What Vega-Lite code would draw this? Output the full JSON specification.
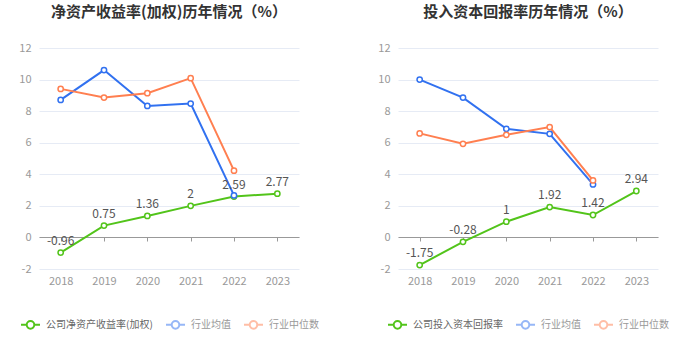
{
  "$schema": "https://vega.github.io/schema/vega-lite/v6.json",
  "background": "white",
  "padding": {"left": 18, "top": 5, "right": 5, "bottom": 5},
  "bounds": "flush",
  "spacing": 99,
  "config": {
    "font": "Noto Sans CJK SC",
    "view": {"stroke": null},
    "axisY": {"domain": false, "ticks": false, "gridColor": "#e6ebf5", "gridWidth": 1, "labelColor": "#999", "labelFontSize": 11, "labelPadding": 8, "values": [-2, 0, 2, 4, 6, 8, 10, 12], "labelExpr": "datum.value + ''"},
    "axisX": {"domainColor": "#999", "tickColor": "#999", "tickSize": 4, "labelColor": "#999", "labelFontSize": 11, "labelAngle": 0, "labelPadding": 34, "offset": -32, "grid": false},
    "legend": {"orient": "bottom", "direction": "horizontal", "offset": 28, "labelFontSize": 10, "labelColor": "#666", "labelOffset": 5, "columnPadding": 9, "symbolType": "M-1,0H-0.4M0.4,0H1M0.4,0A0.4,0.4,0,1,1,-0.4,0A0.4,0.4,0,1,1,0.4,0", "symbolSize": 361, "symbolStrokeWidth": 2, "symbolFillColor": "white", "title": null, "layout": {"bottom": {"anchor": "middle"}}},
    "title": {"fontSize": 15, "fontWeight": "bold", "color": "#333", "anchor": "middle", "offset": 22}
  },
  "hconcat": [
    {
      "width": 260,
      "height": 221,
      "title": "净资产收益率(加权)历年情况（%）",
      "data": {"values": [
        {"year": "2018", "series": "公司净资产收益率(加权)", "value": -0.96},
        {"year": "2019", "series": "公司净资产收益率(加权)", "value": 0.75},
        {"year": "2020", "series": "公司净资产收益率(加权)", "value": 1.36},
        {"year": "2021", "series": "公司净资产收益率(加权)", "value": 2},
        {"year": "2022", "series": "公司净资产收益率(加权)", "value": 2.59},
        {"year": "2023", "series": "公司净资产收益率(加权)", "value": 2.77},
        {"year": "2018", "series": "行业均值", "value": 8.71},
        {"year": "2019", "series": "行业均值", "value": 10.6},
        {"year": "2020", "series": "行业均值", "value": 8.33},
        {"year": "2021", "series": "行业均值", "value": 8.48},
        {"year": "2022", "series": "行业均值", "value": 2.66},
        {"year": "2018", "series": "行业中位数", "value": 9.41},
        {"year": "2019", "series": "行业中位数", "value": 8.86},
        {"year": "2020", "series": "行业中位数", "value": 9.14},
        {"year": "2021", "series": "行业中位数", "value": 10.09},
        {"year": "2022", "series": "行业中位数", "value": 4.23}
      ]},
      "encoding": {
        "x": {"field": "year", "type": "ordinal", "scale": {"type": "point", "padding": 0.5}, "axis": {"title": null}},
        "y": {"field": "value", "type": "quantitative", "scale": {"domain": [-2, 12], "nice": false, "zero": false}, "axis": {"title": null}}
      },
      "layer": [
        {
          "mark": {"type": "line", "strokeWidth": 2, "point": {"filled": false, "fill": "white", "size": 28, "strokeWidth": 1.5}},
          "encoding": {
            "color": {"field": "series", "type": "nominal",
              "scale": {"domain": ["公司净资产收益率(加权)", "行业均值", "行业中位数"], "range": ["#52c41a", "#3171f0", "#ff7f50"]},
              "legend": {"encode": {
                "symbols": {"update": {"opacity": {"signal": "datum.value == '公司净资产收益率(加权)' ? 1 : 0.5"}, "fill": {"value": "white"}}},
                "labels": {"update": {"fill": {"signal": "datum.value == '公司净资产收益率(加权)' ? '#666' : '#999'"}}}
              }}
            }
          }
        },
        {
          "transform": [{"filter": "datum.series == '公司净资产收益率(加权)'"}],
          "mark": {"type": "text", "dy": -12, "fontSize": 12, "color": "#555"},
          "encoding": {"text": {"field": "value", "type": "nominal"}}
        }
      ]
    },
    {
      "width": 260,
      "height": 221,
      "title": "投入资本回报率历年情况（%）",
      "data": {"values": [
        {"year": "2018", "series": "公司投入资本回报率", "value": -1.75},
        {"year": "2019", "series": "公司投入资本回报率", "value": -0.28},
        {"year": "2020", "series": "公司投入资本回报率", "value": 1},
        {"year": "2021", "series": "公司投入资本回报率", "value": 1.92},
        {"year": "2022", "series": "公司投入资本回报率", "value": 1.42},
        {"year": "2023", "series": "公司投入资本回报率", "value": 2.94},
        {"year": "2018", "series": "行业均值", "value": 10.0},
        {"year": "2019", "series": "行业均值", "value": 8.86},
        {"year": "2020", "series": "行业均值", "value": 6.88},
        {"year": "2021", "series": "行业均值", "value": 6.56},
        {"year": "2022", "series": "行业均值", "value": 3.36},
        {"year": "2018", "series": "行业中位数", "value": 6.59},
        {"year": "2019", "series": "行业中位数", "value": 5.93},
        {"year": "2020", "series": "行业中位数", "value": 6.5},
        {"year": "2021", "series": "行业中位数", "value": 6.99},
        {"year": "2022", "series": "行业中位数", "value": 3.61}
      ]},
      "encoding": {
        "x": {"field": "year", "type": "ordinal", "scale": {"type": "point", "padding": 0.5}, "axis": {"title": null}},
        "y": {"field": "value", "type": "quantitative", "scale": {"domain": [-2, 12], "nice": false, "zero": false}, "axis": {"title": null}}
      },
      "layer": [
        {
          "mark": {"type": "line", "strokeWidth": 2, "point": {"filled": false, "fill": "white", "size": 28, "strokeWidth": 1.5}},
          "encoding": {
            "color": {"field": "series", "type": "nominal",
              "scale": {"domain": ["公司投入资本回报率", "行业均值", "行业中位数"], "range": ["#52c41a", "#3171f0", "#ff7f50"]},
              "legend": {"encode": {
                "symbols": {"update": {"opacity": {"signal": "datum.value == '公司投入资本回报率' ? 1 : 0.5"}, "fill": {"value": "white"}}},
                "labels": {"update": {"fill": {"signal": "datum.value == '公司投入资本回报率' ? '#666' : '#999'"}}}
              }}
            }
          }
        },
        {
          "transform": [{"filter": "datum.series == '公司投入资本回报率'"}],
          "mark": {"type": "text", "dy": -12, "fontSize": 12, "color": "#555"},
          "encoding": {"text": {"field": "value", "type": "nominal"}}
        }
      ]
    }
  ],
  "resolve": {"scale": {"color": "independent"}, "legend": {"color": "independent"}}
}
